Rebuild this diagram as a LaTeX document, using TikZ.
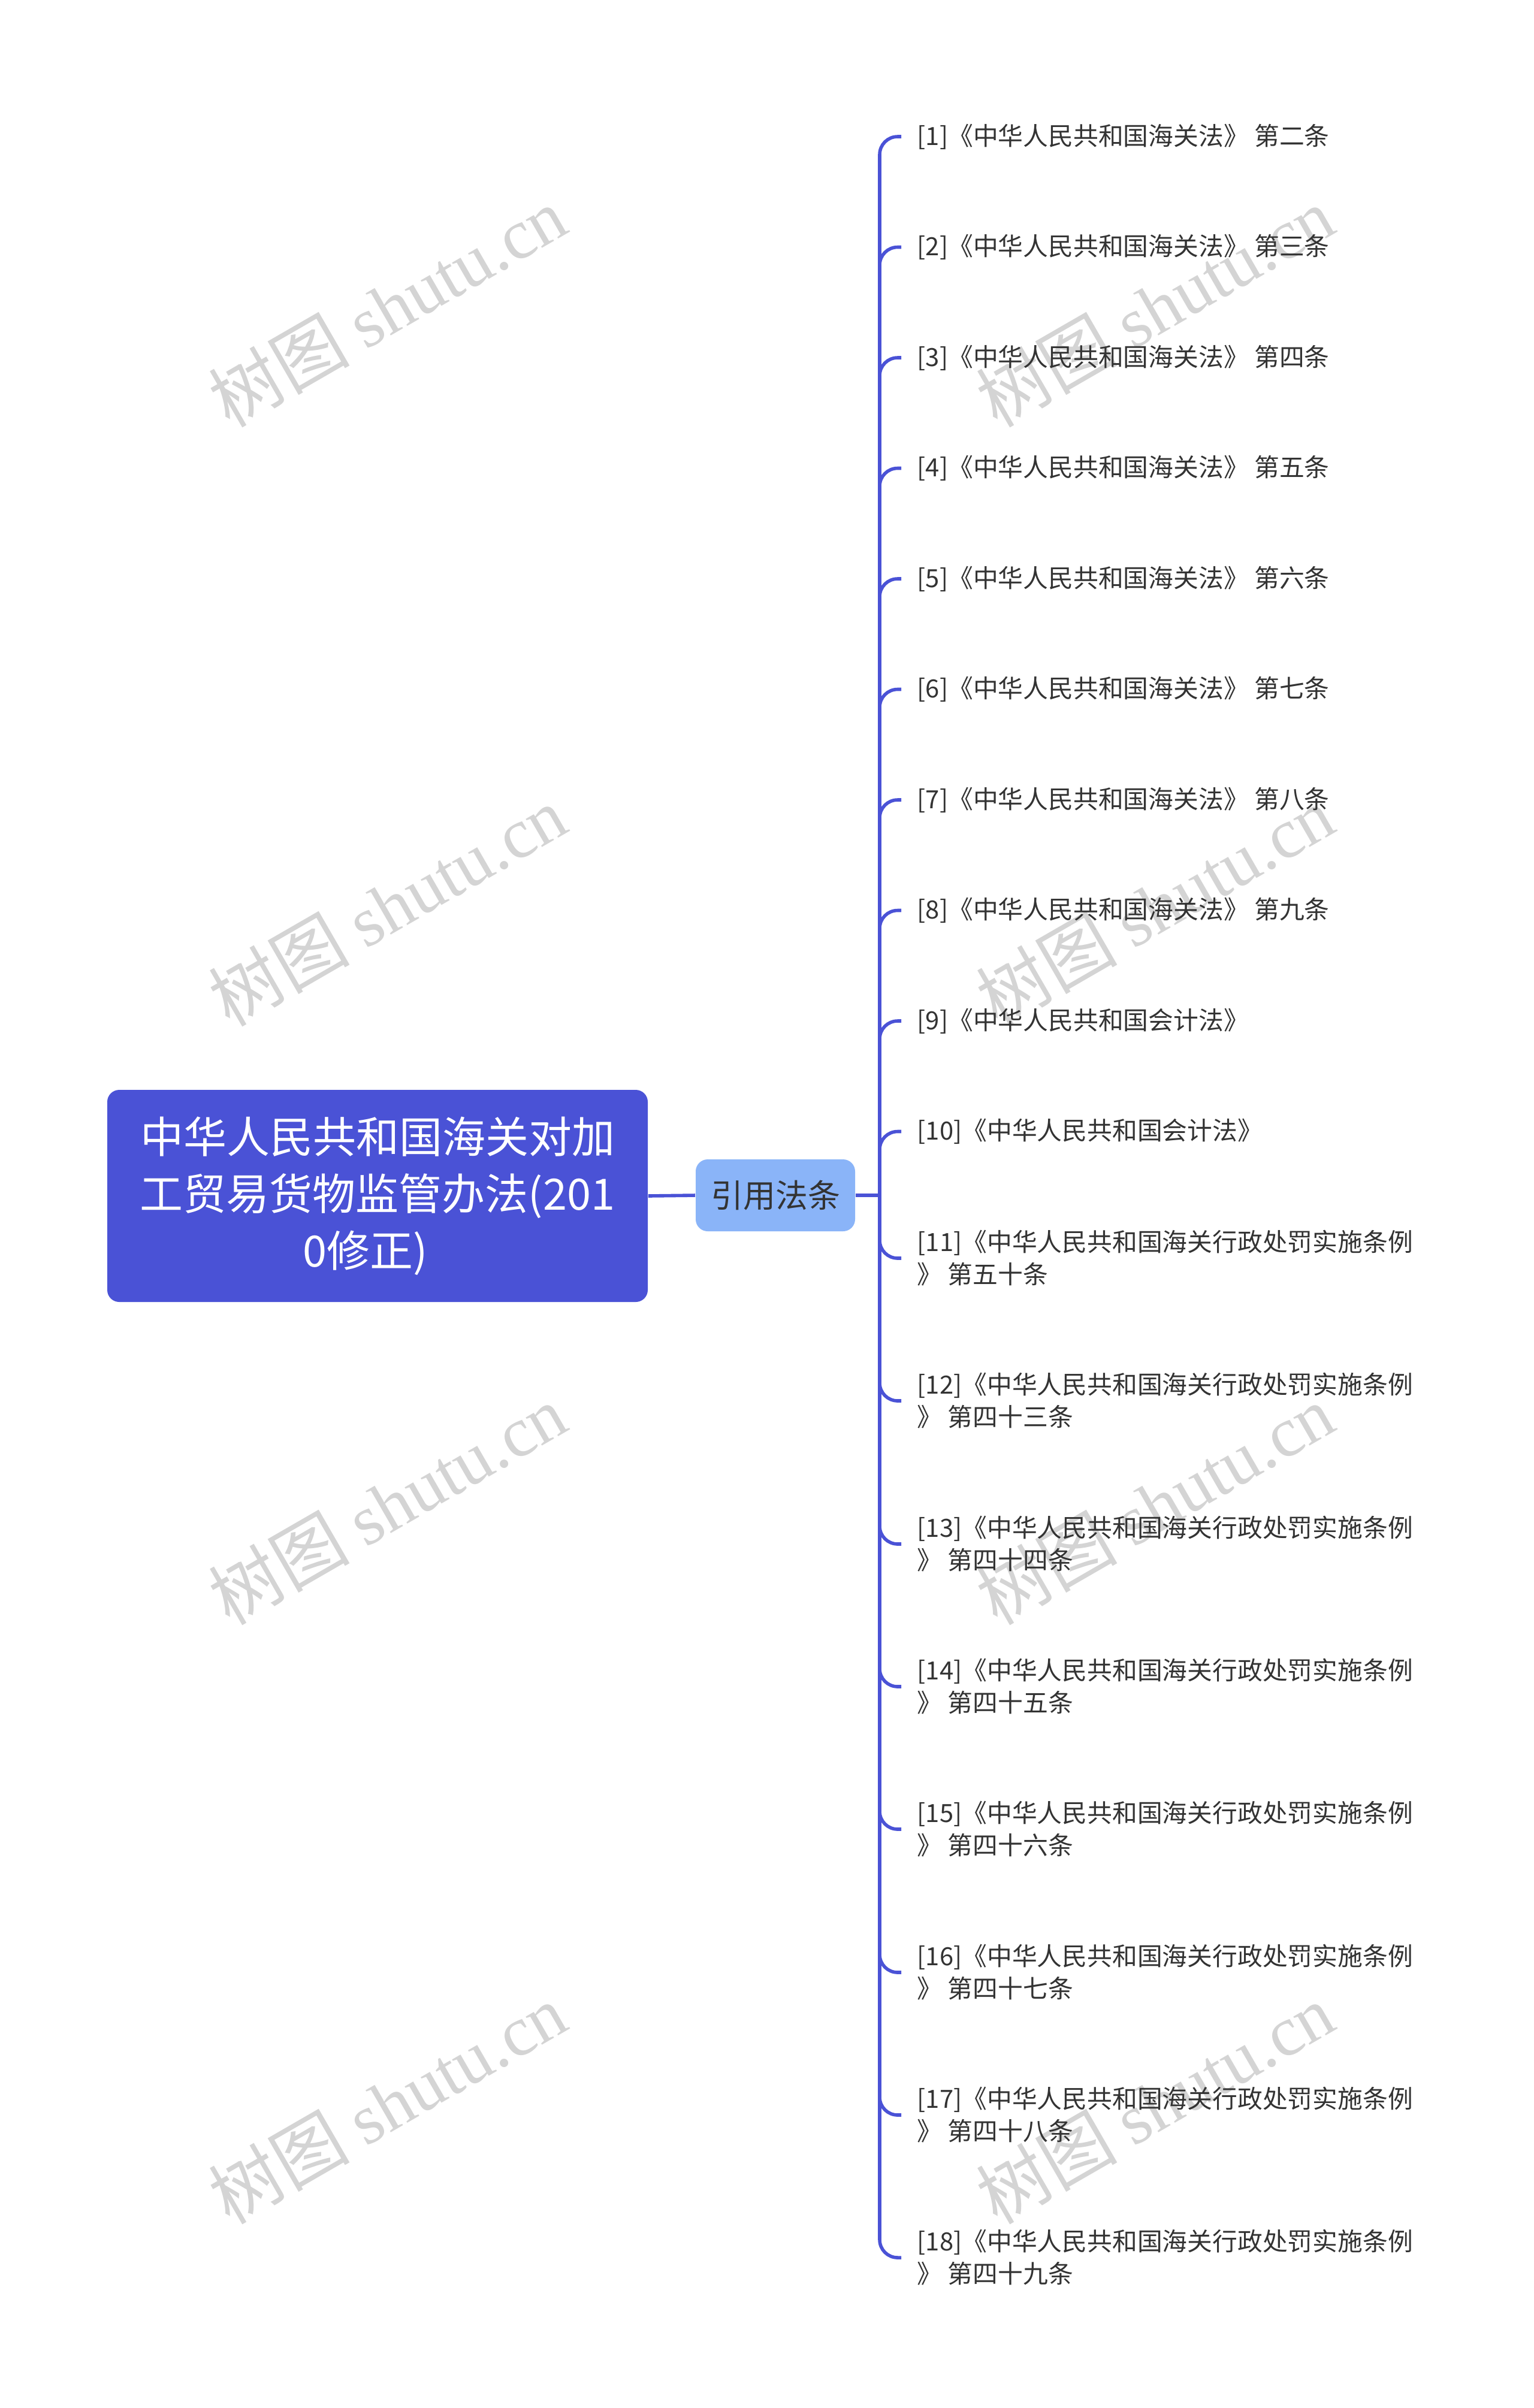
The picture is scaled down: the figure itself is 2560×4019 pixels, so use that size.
\documentclass[tikz,border=0pt]{standalone}
\usepackage{fontspec}
\setmainfont{Noto Sans CJK SC}
\newfontfamily\wmlatin{Liberation Serif}
\definecolor{rootblue}{HTML}{4A52D6}
\definecolor{midblue}{HTML}{8AB4F8}
\definecolor{leaftext}{HTML}{333333}
\definecolor{wmgray}{HTML}{D4D4D4}
\begin{document}
\begin{tikzpicture}[x=0.25pt,y=-0.25pt,
 rootbox/.style={fill=rootblue, rounded corners=5pt, text=white, minimum width=225.5pt, minimum height=88.5pt, align=center, font=\fontsize{18pt}{23.7pt}\selectfont, inner sep=0pt},
 midbox/.style={fill=midblue, rounded corners=5pt, text=leaftext, minimum width=66.5pt, minimum height=30pt, font=\fontsize{13.5pt}{16pt}\selectfont, inner sep=0pt},
 leaf/.style={anchor=west, align=left, text=leaftext, inner xsep=6.5pt, inner ysep=0pt, font=\fontsize{10.45pt}{13.5pt}\selectfont},
 link/.style={draw=rootblue, line width=1.4pt},
 branch/.style={link, rounded corners=7.5pt},
 watermark/.style={text=wmgray, rotate=30, font=\fontsize{29.5pt}{29.5pt}\selectfont}
]
\useasboundingbox (0,0) rectangle (2560,4019);
% watermarks
\foreach \k/\wx/\wy in {a/646/512, b/646/1512, c/646/2511, d/646/3511, e/1927/512, f/1927/1512, g/1927/2511, h/1927/3511}
  \node[watermark] (wm\k) at (\wx,\wy) {树图 {\wmlatin shutu.cn}};
% main nodes
\node[rootbox] (root) at (630,1996) {中华人民共和国海关对加\\工贸易货物监管办法(201\\0修正)\hspace*{10pt}};
\node[midbox] (mid) at (1294,1995) {引用法条};
\coordinate (hub) at (1468,1995);
\draw[link] (root.east) -- (mid.west);
\draw[link] (mid.east) -- (hub);
% leaves
\foreach \i/\y/\t in {
 1/228/{[1]《中华人民共和国海关法》 第二条},
 2/412.5/{[2]《中华人民共和国海关法》 第三条},
 3/597/{[3]《中华人民共和国海关法》 第四条},
 4/781.5/{[4]《中华人民共和国海关法》 第五条},
 5/966/{[5]《中华人民共和国海关法》 第六条},
 6/1150.5/{[6]《中华人民共和国海关法》 第七条},
 7/1335/{[7]《中华人民共和国海关法》 第八条},
 8/1519.5/{[8]《中华人民共和国海关法》 第九条},
 9/1704/{[9]《中华人民共和国会计法》},
 10/1888.5/{[10]《中华人民共和国会计法》},
 11/2100/{[11]《中华人民共和国海关行政处罚实施条例\\》 第五十条},
 12/2338/{[12]《中华人民共和国海关行政处罚实施条例\\》 第四十三条},
 13/2577/{[13]《中华人民共和国海关行政处罚实施条例\\》 第四十四条},
 14/2815/{[14]《中华人民共和国海关行政处罚实施条例\\》 第四十五条},
 15/3053/{[15]《中华人民共和国海关行政处罚实施条例\\》 第四十六条},
 16/3292/{[16]《中华人民共和国海关行政处罚实施条例\\》 第四十七条},
 17/3530/{[17]《中华人民共和国海关行政处罚实施条例\\》 第四十八条},
 18/3768/{[18]《中华人民共和国海关行政处罚实施条例\\》 第四十九条}}
{
  \node[leaf] (l\i) at (1504,\y) {\t};
  \draw[branch] (hub) |- (l\i.west);
}
\end{tikzpicture}
\end{document}
